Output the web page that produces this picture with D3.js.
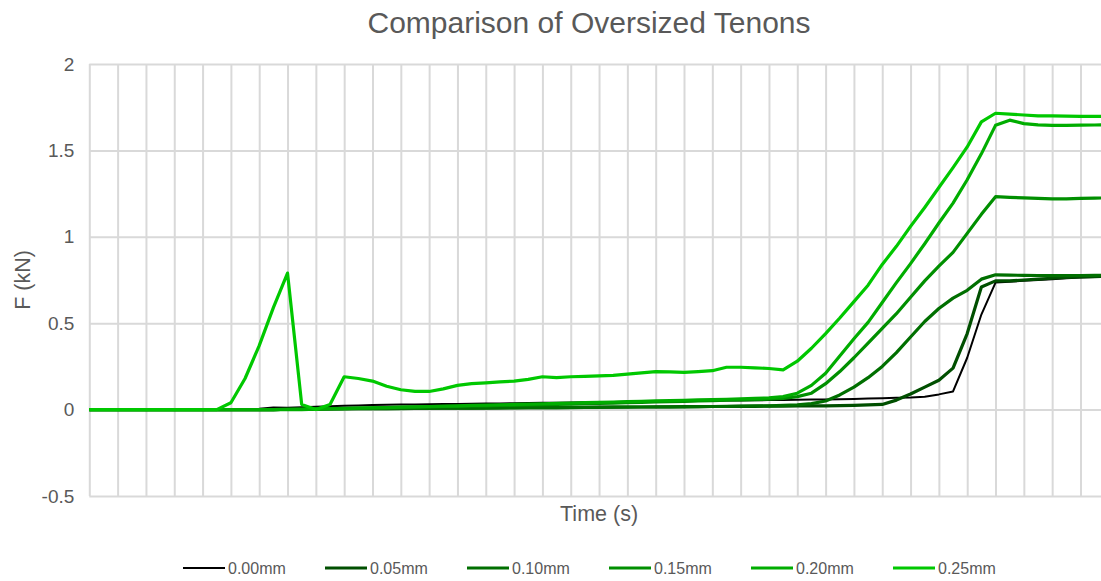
<!DOCTYPE html>
<html>
<head>
<meta charset="utf-8">
<script src="https://cdn.jsdelivr.net/npm/d3@7"></script>
<style>
  body { margin: 0; background: #fff; }
  text { font-family: "Liberation Sans", Arial, sans-serif; fill: #595959; }
</style>
</head>
<body>
<div id="chart"></div>
<script>
// Series names and colours (legend order)
var seriesNames = ['0.00mm', '0.05mm', '0.10mm', '0.15mm', '0.20mm', '0.25mm'];
var seriesColors = ['#000000', '#004f00', '#006f00', '#008f00', '#00ad00', '#00c800'];

// Y axis tick values
var yTicks = [-0.5, 0, 0.5, 1, 1.5, 2];

// Force readings (kN) per time step, 73 steps
var f000 = [
    0, 0, 0, 0, 0, 0, 0, 0, 0, 0,
    0, 0, 0.005, 0.012, 0.01, 0.014, 0.017, 0.02, 0.022, 0.024,
    0.026, 0.028, 0.029, 0.03, 0.031, 0.032, 0.033, 0.034, 0.035, 0.036,
    0.037, 0.038, 0.039, 0.04, 0.041, 0.042, 0.043, 0.044, 0.045, 0.046,
    0.047, 0.048, 0.049, 0.05, 0.051, 0.052, 0.053, 0.054, 0.055, 0.056,
    0.057, 0.058, 0.059, 0.06, 0.062, 0.064, 0.066, 0.068, 0.07, 0.075,
    0.088, 0.105, 0.30, 0.55, 0.735, 0.74, 0.745, 0.75, 0.755, 0.76,
    0.764, 0.767, 0.77
];
var f005 = [
    0, 0, 0, 0, 0, 0, 0, 0, 0, 0,
    0, 0, 0, 0, 0.002, 0.003, 0.004, 0.004, 0.005, 0.005,
    0.006, 0.006, 0.007, 0.007, 0.008, 0.008, 0.009, 0.009, 0.01, 0.01,
    0.011, 0.011, 0.012, 0.012, 0.013, 0.013, 0.014, 0.014, 0.015, 0.015,
    0.016, 0.016, 0.017, 0.017, 0.018, 0.018, 0.019, 0.019, 0.02, 0.02,
    0.021, 0.022, 0.022, 0.023, 0.025, 0.027, 0.03, 0.055, 0.09, 0.13,
    0.17, 0.24, 0.44, 0.71, 0.745, 0.745, 0.75, 0.755, 0.76, 0.765,
    0.768, 0.77, 0.772
];
var f010 = [
    0, 0, 0, 0, 0, 0, 0, 0, 0, 0,
    0, 0, 0, 0, 0.002, 0.003, 0.003, 0.004, 0.004, 0.005,
    0.005, 0.006, 0.006, 0.007, 0.007, 0.008, 0.008, 0.009, 0.009, 0.01,
    0.01, 0.011, 0.011, 0.012, 0.012, 0.013, 0.013, 0.014, 0.014, 0.015,
    0.015, 0.016, 0.016, 0.017, 0.018, 0.019, 0.02, 0.021, 0.022, 0.024,
    0.027, 0.035, 0.05, 0.085, 0.13, 0.185, 0.25, 0.33, 0.42, 0.51,
    0.585, 0.645, 0.69, 0.755, 0.78, 0.778, 0.777, 0.776, 0.775, 0.775,
    0.776, 0.777, 0.778
];
var f015 = [
    0, 0, 0, 0, 0, 0, 0, 0, 0, 0,
    0, 0, 0, 0, 0.002, 0.003, 0.004, 0.006, 0.007, 0.009,
    0.01, 0.012, 0.013, 0.015, 0.016, 0.018, 0.019, 0.021, 0.022, 0.024,
    0.025, 0.027, 0.028, 0.03, 0.032, 0.034, 0.036, 0.038, 0.04, 0.042,
    0.044, 0.046, 0.048, 0.05, 0.052, 0.054, 0.056, 0.058, 0.06, 0.065,
    0.075, 0.095, 0.15, 0.22, 0.30, 0.385, 0.47, 0.555, 0.65, 0.745,
    0.83, 0.91, 1.02, 1.13, 1.232, 1.228, 1.225, 1.222, 1.22, 1.22,
    1.222, 1.224, 1.225
];
var f020 = [
    0, 0, 0, 0, 0, 0, 0, 0, 0, 0,
    0, 0, 0, 0, 0, 0, 0.003, 0.005, 0.006, 0.008,
    0.01, 0.012, 0.014, 0.016, 0.018, 0.02, 0.022, 0.024, 0.026, 0.028,
    0.03, 0.032, 0.034, 0.036, 0.038, 0.04, 0.042, 0.044, 0.046, 0.048,
    0.05, 0.052, 0.054, 0.056, 0.058, 0.06, 0.062, 0.065, 0.068, 0.075,
    0.095, 0.14, 0.21, 0.31, 0.41, 0.505, 0.62, 0.735, 0.845, 0.96,
    1.08, 1.195, 1.33, 1.48, 1.645, 1.675, 1.655, 1.648, 1.645, 1.645,
    1.646, 1.647, 1.648
];
var f025 = [
    0, 0, 0, 0, 0, 0, 0, 0, 0, 0,
    0.04, 0.18, 0.37, 0.59, 0.79, 0.03, 0, 0.03, 0.19, 0.18,
    0.165, 0.135, 0.115, 0.105, 0.105, 0.12, 0.14, 0.15, 0.155, 0.16,
    0.165, 0.175, 0.19, 0.185, 0.19, 0.192, 0.195, 0.198, 0.205, 0.212,
    0.22, 0.218, 0.215, 0.22, 0.225, 0.245, 0.245, 0.242, 0.238, 0.23,
    0.28, 0.355, 0.44, 0.53, 0.625, 0.72, 0.84, 0.945, 1.06, 1.17,
    1.285, 1.40, 1.52, 1.665, 1.715, 1.71, 1.705, 1.70, 1.70, 1.698,
    1.697, 1.697, 1.697
];

var allSeries = [f000, f005, f010, f015, f020, f025];

// Time steps (no labels on the category axis)
var timeSteps = d3.range(f000.length);

// svg size and margins
var svgWidth = 1101;
var svgHeight = 581;
var margin = { top: 64, left: 89.3, bottom: 85 };
var chartWidth = 1019.5;   // runs past the right edge, like the source image
var chartHeight = svgHeight - margin.top - margin.bottom;

var svg = d3.select('#chart')
    .append('svg')
    .attr('width', svgWidth)
    .attr('height', svgHeight);

var chartGroup = svg.append('g')
    .attr('transform', `translate(${margin.left}, ${margin.top})`);

// Scales
var xScale = d3.scaleLinear()
    .domain([0, timeSteps.length - 1])
    .range([0, chartWidth]);

var yScale = d3.scaleLinear()
    .domain([-0.5, 2])
    .range([chartHeight, 0]);

// Vertical gridlines, every second step
var xGrid = chartGroup.append('g')
    .call(d3.axisBottom(xScale)
        .tickValues(timeSteps.filter(d => d % 2 === 0))
        .tickSize(chartHeight)
        .tickFormat(''));
xGrid.select('.domain').remove();
xGrid.selectAll('line')
    .attr('stroke', '#d9d9d9')
    .attr('stroke-width', 2);

// Horizontal gridlines + labels
var yAxis = chartGroup.append('g')
    .call(d3.axisLeft(yScale)
        .tickValues(yTicks)
        .tickSize(-chartWidth)
        .tickPadding(15)
        .tickFormat(d => String(d)));
yAxis.select('.domain').remove();
yAxis.selectAll('line')
    .attr('stroke', '#d9d9d9')
    .attr('stroke-width', 2);
yAxis.selectAll('text')
    .attr('font-size', '19px')
    .style('font-family', '"Liberation Sans", Arial, sans-serif')
    .attr('fill', '#595959');

// Lines
var line = d3.line()
    .x((d, i) => xScale(i))
    .y(d => yScale(d));

chartGroup.selectAll('.series')
    .data(allSeries)
    .enter()
    .append('path')
    .attr('class', 'series')
    .attr('d', d => line(d))
    .attr('fill', 'none')
    .attr('stroke', (d, i) => seriesColors[i])
    .attr('stroke-width', (d, i) => i === 0 ? 2 : 3.2)
    .attr('stroke-linejoin', 'round');

// Title
svg.append('text')
    .attr('x', 589)
    .attr('y', 33)
    .attr('text-anchor', 'middle')
    .attr('font-size', '30px')
    .text('Comparison of Oversized Tenons');

// Axis titles
svg.append('text')
    .attr('x', margin.left + chartWidth / 2)
    .attr('y', 521)
    .attr('text-anchor', 'middle')
    .attr('font-size', '21.5px')
    .text('Time (s)');

svg.append('text')
    .attr('transform', `translate(30, ${margin.top + chartHeight / 2}) rotate(-90)`)
    .attr('text-anchor', 'middle')
    .attr('font-size', '21.5px')
    .text('F (kN)');

// Legend
var legend = svg.selectAll('.legend')
    .data(seriesNames)
    .enter()
    .append('g')
    .attr('class', 'legend')
    .attr('transform', (d, i) => `translate(${183 + i * 142}, 568)`);

legend.append('line')
    .attr('x1', 0)
    .attr('x2', 42)
    .attr('stroke', (d, i) => seriesColors[i])
    .attr('stroke-width', (d, i) => i === 0 ? 2 : 3.2);

legend.append('text')
    .attr('x', 45)
    .attr('dy', '0.35em')
    .attr('font-size', '16px')
    .text(d => d);
</script>
</body>
</html>
